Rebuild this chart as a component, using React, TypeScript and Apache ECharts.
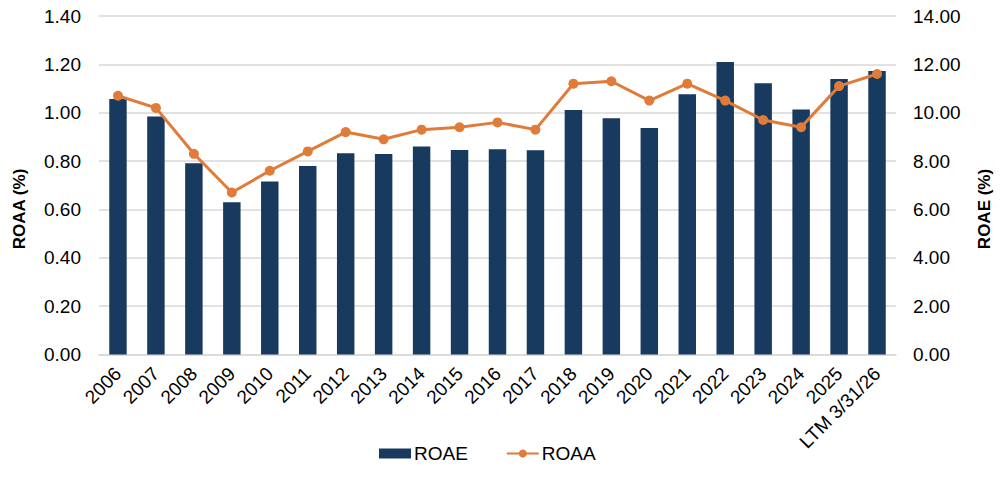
import React, { useEffect, useRef } from "react";
import * as echarts from "echarts";

const categories = [
  "2006", "2007", "2008", "2009", "2010", "2011", "2012", "2013", "2014", "2015",
  "2016", "2017", "2018", "2019", "2020", "2021", "2022", "2023", "2024", "2025",
  "LTM 3/31/26",
];

// Return on average equity (%), right axis
const roae = [
  10.57, 9.84, 7.91, 6.3, 7.15, 7.8, 8.32, 8.29, 8.6, 8.46,
  8.49, 8.45, 10.11, 9.77, 9.37, 10.76, 12.1, 11.22, 10.13, 11.39,
  11.73,
];

// Return on average assets (%), left axis
const roaa = [
  1.07, 1.02, 0.83, 0.67, 0.76, 0.84, 0.92, 0.89, 0.93, 0.94,
  0.96, 0.93, 1.12, 1.13, 1.05, 1.12, 1.05, 0.97, 0.94, 1.11,
  1.16,
];

const leftAxisTitle = "ROAA (%)";
const rightAxisTitle = "ROAE (%)";

const FONT = "Liberation Sans, Arial, sans-serif";
const NAVY = "#173a5e";
const ORANGE = "#e07b39";

export default function App() {
  const ref = useRef<HTMLDivElement>(null);

  useEffect(() => {
    if (!ref.current) return;
    const chart = echarts.init(ref.current, null, { renderer: "svg" });
    const titleStyle = {
      fontSize: 17,
      fontWeight: "bold",
      fill: "#000",
      fontFamily: FONT,
      align: "center",
      verticalAlign: "middle",
    };
    chart.setOption({
      animation: false,
      textStyle: { fontFamily: FONT },
      grid: { left: 99, right: 104, top: 16, bottom: 127.5 },
      legend: {
        left: 374,
        top: 439,
        itemGap: 38,
        itemWidth: 32,
        itemHeight: 10,
        textStyle: { fontSize: 19, color: "#000", fontFamily: FONT, padding: [0, 0, 0, -2] },
        data: [
          { name: "ROAE", icon: "rect" },
          { name: "ROAA" },
        ],
      },
      graphic: [
        {
          type: "text",
          x: 19,
          y: 209,
          rotation: Math.PI / 2,
          style: { text: leftAxisTitle, ...titleStyle },
        },
        {
          type: "text",
          x: 984,
          y: 209,
          rotation: Math.PI / 2,
          style: { text: rightAxisTitle, ...titleStyle },
        },
      ],
      xAxis: {
        type: "category",
        data: categories,
        axisLine: { lineStyle: { color: "#d9d9d9", width: 1.5 } },
        axisTick: { show: false },
        axisLabel: {
          rotate: 45,
          interval: 0,
          fontSize: 19,
          color: "#000",
          margin: 16,
          fontFamily: FONT,
        },
      },
      yAxis: [
        {
          type: "value",
          min: 0,
          max: 1.4,
          interval: 0.2,
          axisLabel: {
            formatter: (v: number) => v.toFixed(2),
            fontSize: 19,
            color: "#000",
            margin: 18,
            fontFamily: FONT,
          },
          splitLine: { lineStyle: { color: "#d9d9d9", width: 1.5 } },
          axisLine: { show: false },
          axisTick: { show: false },
        },
        {
          type: "value",
          min: 0,
          max: 14,
          interval: 2,
          axisLabel: {
            formatter: (v: number) => v.toFixed(2),
            fontSize: 19,
            color: "#000",
            margin: 17,
            fontFamily: FONT,
          },
          splitLine: { show: false },
          axisLine: { show: false },
          axisTick: { show: false },
        },
      ],
      series: [
        {
          name: "ROAE",
          type: "bar",
          yAxisIndex: 1,
          data: roae,
          barWidth: "46%",
          itemStyle: { color: NAVY },
        },
        {
          name: "ROAA",
          type: "line",
          yAxisIndex: 0,
          data: roaa,
          symbol: "circle",
          symbolSize: 10,
          lineStyle: { color: ORANGE, width: 3 },
          itemStyle: { color: ORANGE },
        },
      ],
    });
    return () => chart.dispose();
  }, []);

  return <div ref={ref} style={{ width: 1000, height: 482, position: "absolute", left: 0, top: 0 }} />;
}
